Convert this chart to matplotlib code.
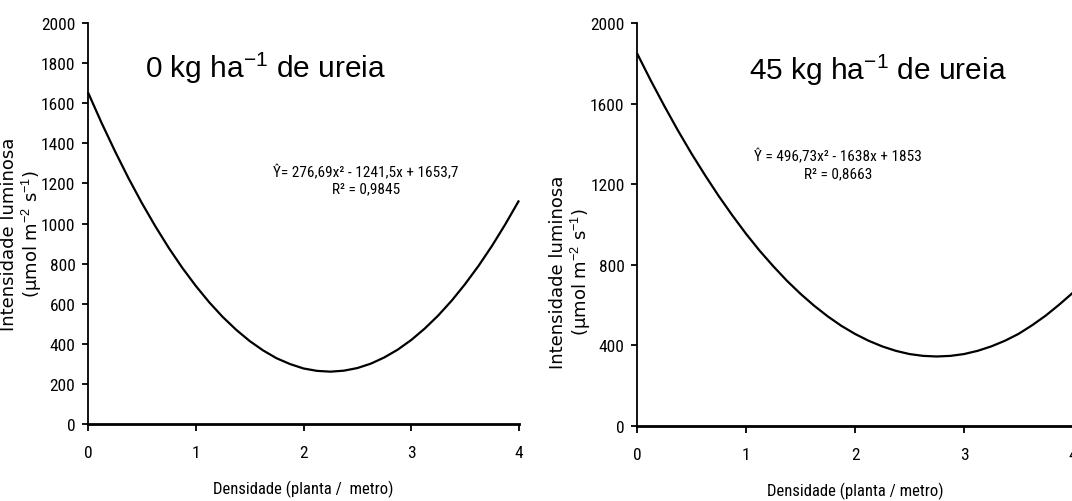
import matplotlib
matplotlib.use("Agg")
import matplotlib.pyplot as plt
from matplotlib import font_manager

# ---- data ----
density = [0.0, 0.125, 0.25, 0.375, 0.5, 0.625, 0.75, 0.875, 1.0, 1.125, 1.25,
           1.375, 1.5, 1.625, 1.75, 1.875, 2.0, 2.125, 2.25, 2.375, 2.5, 2.625,
           2.75, 2.875, 3.0, 3.125, 3.25, 3.375, 3.5, 3.625, 3.75, 3.875, 4.0]
light_0kg = [1654, 1503, 1361, 1227, 1102, 986, 878, 779, 689, 607, 534, 470,
             414, 367, 328, 299, 277, 265, 261, 266, 279, 301, 332, 371, 419,
             476, 541, 615, 698, 789, 889, 998, 1115]
light_45kg = [1850, 1716, 1589, 1467, 1352, 1244, 1141, 1045, 954, 870, 793,
              721, 656, 597, 544, 497, 457, 423, 395, 373, 357, 348, 345, 348,
              357, 373, 395, 423, 457, 500, 548, 603, 662]

titles = ["0 kg ha$^{-1}$ de ureia", "45 kg ha$^{-1}$ de ureia"]
equations = ["\u0176= 276,69x\u00b2 - 1241,5x + 1653,7\nR\u00b2 = 0,9845",
             "\u0176 = 496,73x\u00b2 - 1638x + 1853\nR\u00b2 = 0,8663"]
xlabels = ["Densidade (planta /  metro)", "Densidade (planta / metro)"]
ylabel = "Intensidade luminosa\n(\u00b5mol m$^{-2}$ s$^{-1}$)"
xticks = [0, 1, 2, 3, 4]
yticks_left = [0, 200, 400, 600, 800, 1000, 1200, 1400, 1600, 1800, 2000]
yticks_right = [0, 400, 800, 1200, 1600, 2000]

# ---- fonts ----
arial = "Liberation Sans"
narrow_props = dict(fontfamily=arial)
cands = []
for f in font_manager.fontManager.ttflist:
    nm = f.name
    st = str(f.stretch)
    if ("Narrow" in nm or "Condensed" in nm or st in ("condensed", "semi-condensed",
                                                        "extra-condensed")) \
            and f.style == "normal" and f.weight in (400, "normal", "regular"):
        cands.append((nm, st))
pref = None
for want in ("Liberation Sans Narrow", "Arial Narrow", "Roboto Condensed",
             "Open Sans Condensed", "Noto Sans Condensed"):
    for nm, st in cands:
        if nm == want:
            pref = dict(fontfamily=nm)
            break
    if pref:
        break
if pref is None:
    for nm, st in cands:
        if nm == "DejaVu Sans" and st in ("condensed", "semi-condensed"):
            pref = dict(fontfamily="DejaVu Sans", fontstretch="condensed")
            break
if pref is None:
    for nm, st in cands:
        if "Sans" in nm:
            pref = dict(fontfamily=nm, fontstretch=st)
            break
if pref is not None:
    narrow_props = pref
tick_size = 12.5 if pref is not None else 10.5
xlab_size = 12 if pref is not None else 11
eq_size = 11 if pref is not None else 9.5

plt.rcParams["mathtext.fontset"] = "custom"
plt.rcParams["mathtext.rm"] = arial
plt.rcParams["mathtext.it"] = arial + ":italic"
plt.rcParams["mathtext.bf"] = arial + ":bold"

W, H = 1072, 502
fig = plt.figure(figsize=(W / 100, H / 100), dpi=100)


def px_axes(x0, x1, ybot, ytop):
    return fig.add_axes([x0 / W, 1 - ybot / H, (x1 - x0) / W, (ybot - ytop) / H])


axL = px_axes(88, 519, 425, 24)
axR = px_axes(637, 1073, 427, 24)

panels = [
    (axL, light_0kg, yticks_left, xlabels[0]),
    (axR, light_45kg, yticks_right, xlabels[1]),
]

for ax, ys, yt, xl in panels:
    ax.plot(density, ys, color="black", lw=1.6, solid_capstyle="butt", clip_on=False)
    ax.set_xlim(0, 4)
    ax.set_ylim(0, 2000)
    ax.set_xticks(xticks)
    ax.set_yticks(yt)
    ax.set_xticklabels([str(v) for v in xticks], fontsize=tick_size, **narrow_props)
    ax.set_yticklabels([str(v) for v in yt], fontsize=tick_size, **narrow_props)
    for s in ("top", "right"):
        ax.spines[s].set_visible(False)
    ax.spines["left"].set_linewidth(1.3)
    ax.spines["bottom"].set_linewidth(2.0)
    ax.tick_params(axis="y", direction="out", length=4, width=1.3, pad=5)
    ax.tick_params(axis="x", direction="out", length=5, width=1.3, pad=10)
    ax.set_xlabel(xl, fontsize=xlab_size, labelpad=14, **narrow_props)
    ax.patch.set_alpha(0)

# titles
fig.text(266 / W, 1 - 68 / H, titles[0], fontfamily=arial, fontsize=21.5,
         ha="center", va="center")
fig.text(878 / W, 1 - 70 / H, titles[1], fontfamily=arial, fontsize=21.5,
         ha="center", va="center")

# equations
fig.text(366 / W, 1 - 181 / H, equations[0], fontsize=eq_size,
         ha="center", va="center", linespacing=1.15, multialignment="center",
         **narrow_props)
fig.text(838 / W, 1 - 165 / H, equations[1], fontsize=eq_size,
         ha="center", va="center", linespacing=1.3, multialignment="center",
         **narrow_props)

# y labels
fig.text(22 / W, 1 - 234 / H, ylabel, fontfamily="DejaVu Sans", fontsize=13,
         rotation=90, ha="center", va="center", multialignment="center",
         linespacing=1.05)
fig.text(571 / W, 1 - 272 / H, ylabel, fontfamily="DejaVu Sans", fontsize=13,
         rotation=90, ha="center", va="center", multialignment="center",
         linespacing=1.05)

fig.savefig("out.png", dpi=100, facecolor="white")
